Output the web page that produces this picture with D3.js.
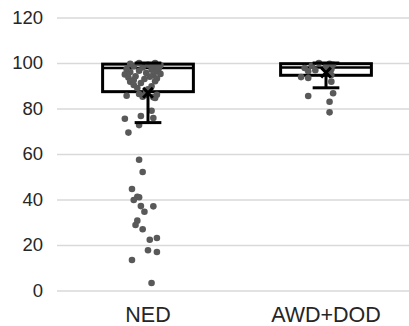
<!DOCTYPE html>
<html>
<head>
<meta charset="utf-8">
<script src="https://d3js.org/d3.v7.min.js"></script>
<style>
  body { margin: 0; background: #fff; }
  text { font-family: "Liberation Sans", Arial, sans-serif; fill: #262626; }
</style>
</head>
<body>
<div id="chart"></div>
<script>
// Width and height of the canvas
var w = 409, h = 326;
var margin = {top: 17.5, right: 0, bottom: 35.5, left: 57};

// categories and tick labels
var categories = ["NED", "AWD+DOD"];
var yTicks = [0, 20, 40, 60, 80, 100, 120];

// box stats: [low whisker, q1, median, q3, high whisker, mean]
var nedStats = [73.8, 87.4, 97.8, 99.5, 100, 86.9];
var awdStats = [89.1, 94.6, 98.0, 99.7, 100, 95.8];

// individual values and their horizontal jitter (fraction of band width)
var nedValues = [
  100, 100, 99.6, 99.2, 99, 98.6, 98.3, 98, 97.6, 97.3, 97, 96.6, 96.3, 96, 95.6,
  95.2, 95, 94.6, 94.2, 94, 93.6, 93.2, 93, 92.5, 92, 91.8, 91.2, 90.3, 89.8, 89,
  88.4, 87.4, 86.4, 86, 85.8, 85.2, 85, 85.6, 84.6,
  79, 76.7, 75.8, 75.5, 72.7, 69.4, 57.5, 52.1, 44.6, 41.2, 41, 39.8, 37.1, 37,
  34.6, 30.7, 28.8, 26.9, 23.1, 22.3, 17.7, 16.9, 13.4, 3.3
];
var nedJitter = [
  -0.05, 0.04, -0.10, 0.00, 0.07, -0.08, 0.03, -0.03, 0.06, -0.12, 0.02, -0.05, 0.05, -0.10, -0.01,
  0.07, -0.13, 0.03, -0.07, 0.01, -0.11, 0.05, -0.02, -0.08, 0.04, -0.10, -0.04, -0.08, 0.02, -0.06,
  0.00, -0.01, -0.05, 0.05, -0.02, -0.03, 0.03, -0.12, 0.04,
  0.02, -0.04, 0.03, -0.13, -0.05, -0.11, -0.05, -0.03, -0.09, -0.06, -0.05, -0.08, -0.04, 0.03,
  -0.02, -0.06, -0.07, -0.03, 0.05, 0.01, 0.00, 0.05, -0.09, 0.02
];
var awdValues = [100, 99.6, 99.2, 98.8, 98.4, 97.8, 97.2, 96.8, 96.4, 96.0, 94.7, 93.8, 93.4, 91.8, 86.7, 85.5, 83, 78.3];
var awdJitter = [-0.04, 0.02, 0.04, -0.08, 0.00, -0.12, 0.03, -0.06, -0.10, 0.01, 0.03, -0.14, -0.10, 0.03, 0.04, -0.10, 0.02, 0.02];

var svg = d3.select("#chart")
  .append("svg")
  .attr("width", w)
  .attr("height", h);

var x = d3.scaleBand().domain(categories).range([59, 415]);
var y = d3.scaleLinear().domain([0, 120]).range([h - margin.bottom, margin.top]);

// y axis with gridlines
var yAxis = d3.axisLeft(y).tickValues(yTicks).tickSize(-(w - margin.left)).tickPadding(14);
var gy = svg.append("g")
  .attr("transform", "translate(" + margin.left + ",0)")
  .call(yAxis);
gy.select(".domain").remove();
gy.selectAll("line").attr("stroke", "#d9d9d9").attr("stroke-width", 1.5);
gy.selectAll("text").style("font-size", "18.5px").attr("fill", "#262626");

// x axis labels
var xAxis = d3.axisBottom(x).tickSize(0);
var gx = svg.append("g")
  .attr("transform", "translate(0," + y(0) + ")")
  .call(xAxis);
gx.select(".domain").remove();
gx.selectAll("text")
  .attr("y", 31.5).attr("dy", 0)
  .style("font-size", "21.5px").attr("fill", "#262626");

var groups = [
  {name: "NED", stats: nedStats, values: nedValues, jitter: nedJitter},
  {name: "AWD+DOD", stats: awdStats, values: awdValues, jitter: awdJitter}
];

var bw = x.bandwidth();
var boxW = bw * 0.51;
var capW = bw * 0.15;

groups.forEach(function(g) {
  var cx = x(g.name) + bw / 2;
  var s = g.stats;
  var grp = svg.append("g");

  // box
  grp.append("rect")
    .attr("x", cx - boxW / 2)
    .attr("y", y(s[3]))
    .attr("width", boxW)
    .attr("height", y(s[1]) - y(s[3]))
    .attr("fill", "#fff")
    .attr("stroke", "#000")
    .attr("stroke-width", 3);

  // median
  grp.append("line")
    .attr("x1", cx - boxW / 2).attr("x2", cx + boxW / 2)
    .attr("y1", y(s[2])).attr("y2", y(s[2]))
    .attr("stroke", "#000").attr("stroke-width", 2.5);

  // points
  grp.selectAll("circle")
    .data(g.values)
    .enter()
    .append("circle")
    .attr("cx", function(d, i) { return cx + g.jitter[i] * bw; })
    .attr("cy", function(d) { return y(d); })
    .attr("r", 3.3)
    .attr("fill", "#595959");

  // whiskers
  grp.append("line")
    .attr("x1", cx).attr("x2", cx)
    .attr("y1", y(s[1])).attr("y2", y(s[0]))
    .attr("stroke", "#000").attr("stroke-width", 3);
  grp.append("line")
    .attr("x1", cx).attr("x2", cx)
    .attr("y1", y(s[3])).attr("y2", y(s[4]))
    .attr("stroke", "#000").attr("stroke-width", 3);
  [s[0], s[4]].forEach(function(v) {
    grp.append("line")
      .attr("x1", cx - capW / 2).attr("x2", cx + capW / 2)
      .attr("y1", y(v)).attr("y2", y(v))
      .attr("stroke", "#000").attr("stroke-width", 3);
  });

  // mean marker
  grp.append("path")
    .attr("d", d3.symbol(d3.symbolX, 64)())
    .attr("transform", "translate(" + cx + "," + y(s[5]) + ")")
    .attr("fill", "none")
    .attr("stroke", "#000")
    .attr("stroke-width", 3);
});
</script>
</body>
</html>
